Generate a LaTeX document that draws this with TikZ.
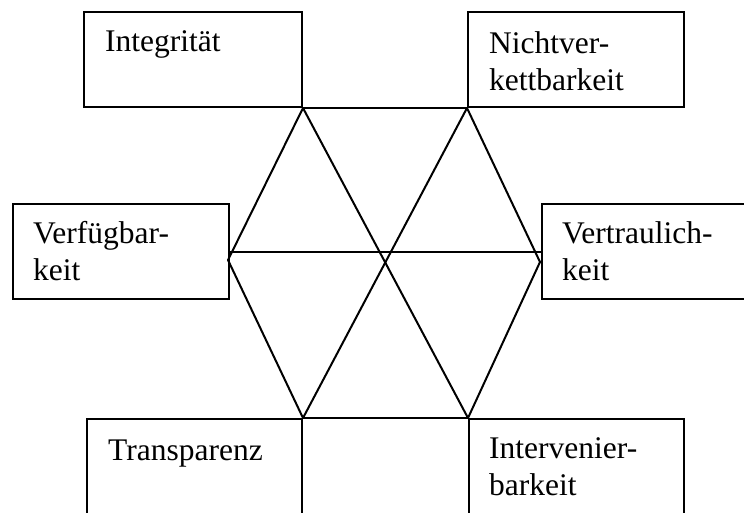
\documentclass[tikz,border=0pt]{standalone}
\usepackage{fontspec}
\setmainfont{Liberation Serif}
\begin{document}
\begin{tikzpicture}[x=1pt,y=-1pt,
  box/.style={draw=black, line width=2pt, rectangle, inner sep=0pt, anchor=north west},
  lbl/.style={anchor=base west, inner sep=0pt, align=left, font=\fontsize{31.5}{37}\selectfont},
  edge/.style={draw=black, line width=2pt, line cap=round, line join=round}]
\useasboundingbox (0,0) rectangle (744,513);
\clip (0,0) rectangle (744,513);
% boxes
\node[box, minimum width=218pt, minimum height=95pt] (integ) at (83,11) {};
\node[box, minimum width=216pt, minimum height=95pt] (nicht) at (467,11) {};
\node[box, minimum width=216pt, minimum height=95pt] (verf) at (12,203) {};
\node[box, minimum width=220pt, minimum height=95pt] (vertr) at (541,203) {};
\node[box, minimum width=215pt, minimum height=120pt] (transp) at (86,418) {};
\node[box, minimum width=215pt, minimum height=120pt] (interv) at (468,418) {};
% labels (base = baseline of last line)
\node[lbl] (tinteg) at (105,52) {Integrität};
\node[lbl] (tnicht) at (489,91) {Nichtver-\\kettbarkeit};
\node[lbl] (tverf) at (33,280) {Verfügbar-\\keit};
\node[lbl] (tvertr) at (562,280) {Vertraulich-\\keit};
\node[lbl] (ttransp) at (108,460) {Transparenz};
\node[lbl] (tinterv) at (489,495) {Intervenier-\\barkeit};
% hexagon vertices
\coordinate (A) at (integ.south east);
\coordinate (B) at (nicht.south west);
\coordinate (C) at (540,262);
\coordinate (D) at (interv.north west);
\coordinate (E) at (transp.north east);
\coordinate (F) at (228,260);
% hexagon
\draw[edge] (A) -- (B);
\draw[edge] (B) -- (C);
\draw[edge] (C) -- (D);
\draw[edge] (D) -- (E);
\draw[edge] (E) -- (F);
\draw[edge] (F) -- (A);
% inner lines
\draw[edge] (verf.east) -- (vertr.west);
\draw[edge] (A) -- (D);
\draw[edge] (B) -- (E);
\end{tikzpicture}
\end{document}
